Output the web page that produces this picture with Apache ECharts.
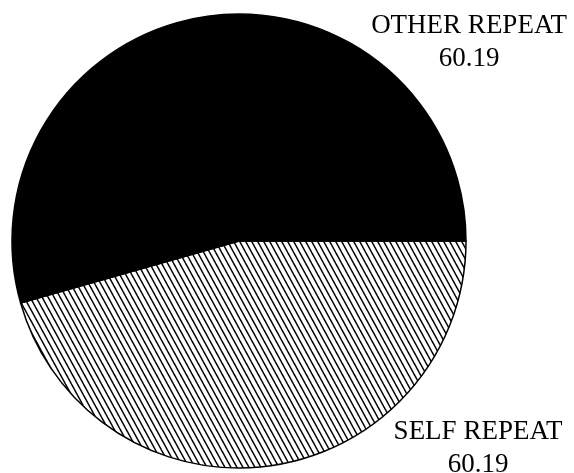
<!DOCTYPE html>
<html>
<head>
<meta charset="utf-8">
<script src="https://cdn.jsdelivr.net/npm/echarts@6/dist/echarts.min.js"></script>
<style>
  html, body { margin: 0; padding: 0; background: #fff; }
  #chart { width: 574px; height: 473px; }
</style>
</head>
<body>
<div id="chart"></div>
<script>
// Data
var categories = ['SELF REPEAT', 'OTHER REPEAT'];
var sliceShares = [45.6, 54.4];          // angular share
var labelValues = ['60.19', '60.19'];    // numbers printed in the labels

// Hatch pattern
function makeHatch() {
  var w = 6, h = 11;
  var c = document.createElement('canvas');
  c.width = w; c.height = h;
  var g = c.getContext('2d');
  g.fillStyle = '#fff';
  g.fillRect(0, 0, w, h);
  g.strokeStyle = '#000';
  g.lineWidth = 1.5;
  for (var k = -2; k <= 2; k++) {
    g.beginPath();
    g.moveTo(k * w - w / h * 2, -2);
    g.lineTo(k * w + w + w / h * 2, h + 2);
    g.stroke();
  }
  return c;
}

var fills = [{ image: makeHatch(), repeat: 'repeat' }, '#000'];
var labelPos = [
  { x: 478, y: 415 },
  { x: 469, y: 9 }
];

var chart = echarts.init(document.getElementById('chart'), null, { renderer: 'canvas' });

var seriesData = categories.map(function (n, i) {
  return { name: n, value: sliceShares[i], itemStyle: { color: fills[i] } };
});

var graphics = categories.map(function (n, i) {
  return {
    type: 'text',
    x: labelPos[i].x,
    y: labelPos[i].y,
    style: {
      text: n + '\n' + labelValues[i],
      font: '27px "Liberation Serif", "Times New Roman", serif',
      fill: '#000',
      align: 'center',
      verticalAlign: 'top',
      lineHeight: 33
    }
  };
});

chart.setOption({
  animation: false,
  backgroundColor: '#fff',
  graphic: graphics,
  series: [{
    type: 'pie',
    center: [239, 241],
    radius: 227,
    startAngle: 0,
    clockwise: true,
    label: { show: false },
    labelLine: { show: false },
    emphasis: { disabled: true },
    itemStyle: { borderColor: '#000', borderWidth: 1.5 },
    data: seriesData
  }]
});
</script>
</body>
</html>
